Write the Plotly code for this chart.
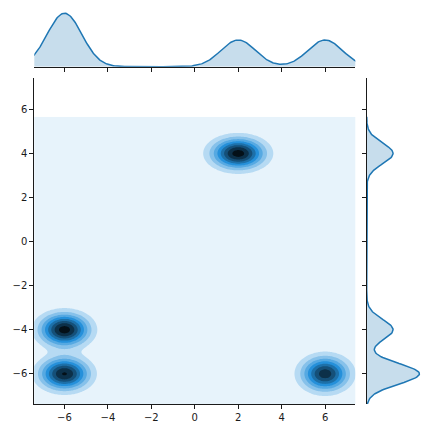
import colorsys
import numpy as np
import plotly.graph_objects as go

# ---- data ----
# bivariate density: four blobs (centre, peak height, spreads)
cluster_x = [-6, -6, 2, 6]
cluster_y = [-4, -6, 4, -6]
cluster_peak = [8.5, 8.1, 8.5, 7.6]
cluster_sx = [0.73, 0.73, 0.78, 0.70]
cluster_sy = [0.475, 0.47, 0.45, 0.50]

# marginal densities
marg_x_centers = [-6, 2, 6]
marg_x_weights = [2.0, 1.0, 1.0]
marg_x_sigma = 0.8
marg_y_centers = [4, -4, -6]
marg_y_weights = [1.0, 1.0, 2.0]
marg_y_sigma = 0.47

tick_vals = [-6, -4, -2, 0, 2, 4, 6]
level_start, level_end, level_size = 1, 8, 1
n_bands = 9          # bands drawn
n_cmap_bands = 9     # bands the colour map is split into

# grid extent of the density estimate
grid_x = np.linspace(-8.0, 8.0, 241)
grid_y = np.linspace(-8.0, 5.66, 211)

XX, YY = np.meshgrid(grid_x, grid_y)
Z = np.zeros_like(XX)
for cx, cy, a, sx, sy in zip(cluster_x, cluster_y, cluster_peak, cluster_sx, cluster_sy):
    Z += a * np.exp(-((XX - cx) ** 2) / (2 * sx ** 2) - ((YY - cy) ** 2) / (2 * sy ** 2))

mx = np.linspace(-8, 8, 400)
dx = np.zeros_like(mx)
for c, w in zip(marg_x_centers, marg_x_weights):
    dx += w * np.exp(-((mx - c) ** 2) / (2 * marg_x_sigma ** 2))
my = np.linspace(-8, 5.66, 400)
dy = np.zeros_like(my)
for c, w in zip(marg_y_centers, marg_y_weights):
    dy += w * np.exp(-((my - c) ** 2) / (2 * marg_y_sigma ** 2))

# seaborn-like colormap: white -> blue -> black in the hue of #1f77b4
base = (31 / 255, 119 / 255, 180 / 255)
h, l0, s = colorsys.rgb_to_hls(*base)
colorscale = []
for j in range(n_bands):
    lj = 1 - (j + 0.5) / n_cmap_bands
    r, g, b = colorsys.hls_to_rgb(h, lj, s)
    colorscale.append([j / (n_bands - 1), f"rgb({r*255:.0f},{g*255:.0f},{b*255:.0f})"])

blue = "#1f77b4"
fillc = "rgba(31,119,180,0.25)"
axcol = "#1a1a1a"
font = dict(family="DejaVu Sans", size=10, color=axcol)

fig = go.Figure()
fig.add_trace(go.Contour(
    x=grid_x, y=grid_y, z=Z,
    contours=dict(start=level_start, end=level_end, size=level_size,
                  coloring="fill", showlines=False),
    line=dict(width=0), colorscale=colorscale, showscale=False,
    hoverinfo="skip", xaxis="x", yaxis="y"))

fig.add_trace(go.Scatter(x=mx, y=dx, mode="lines", fill="tozeroy",
                         fillcolor=fillc, line=dict(color=blue, width=1.5),
                         xaxis="x2", yaxis="y2"))
fig.add_trace(go.Scatter(x=dy, y=my, mode="lines", fill="tozerox",
                         fillcolor=fillc, line=dict(color=blue, width=1.5),
                         xaxis="x3", yaxis="y3"))

# page has an 8px body margin; positions below are in figure pixels
W = 432.0
off = 8.0
def fx(p):
    return (p - off) / W
def fy(p):
    return (W - (p - off)) / W

xdom = [fx(34.3), fx(355.3)]
ydom = [fy(404.0), fy(78.3)]
xr = [-7.39, 7.39]
yr = [-7.37, 7.41]

common = dict(showgrid=False, zeroline=False, showline=True, linecolor=axcol,
              linewidth=1, ticks="outside", ticklen=4, tickwidth=1,
              tickcolor=axcol, tickfont=font)

fig.update_layout(
    width=432, height=432, margin=dict(l=0, r=0, t=0, b=0),
    paper_bgcolor="white", plot_bgcolor="white", showlegend=False,
    xaxis=dict(domain=xdom, range=xr, tickvals=tick_vals, anchor="y", **common),
    yaxis=dict(domain=ydom, range=yr, tickvals=tick_vals, anchor="x", **common),
    xaxis2=dict(domain=xdom, range=xr, tickvals=tick_vals, anchor="y2",
                showticklabels=False, **common),
    yaxis2=dict(domain=[fy(66.7), fy(10.6)],
                range=[0, float(dx.max()) * 1.05], visible=False, anchor="x2"),
    xaxis3=dict(domain=[fx(366.7), fx(422.0)], range=[0, float(dy.max()) * 1.05],
                visible=False, anchor="y3"),
    yaxis3=dict(domain=ydom, range=yr, tickvals=tick_vals, anchor="x3",
                showticklabels=False, **common),
)

fig.write_html("out.html")
